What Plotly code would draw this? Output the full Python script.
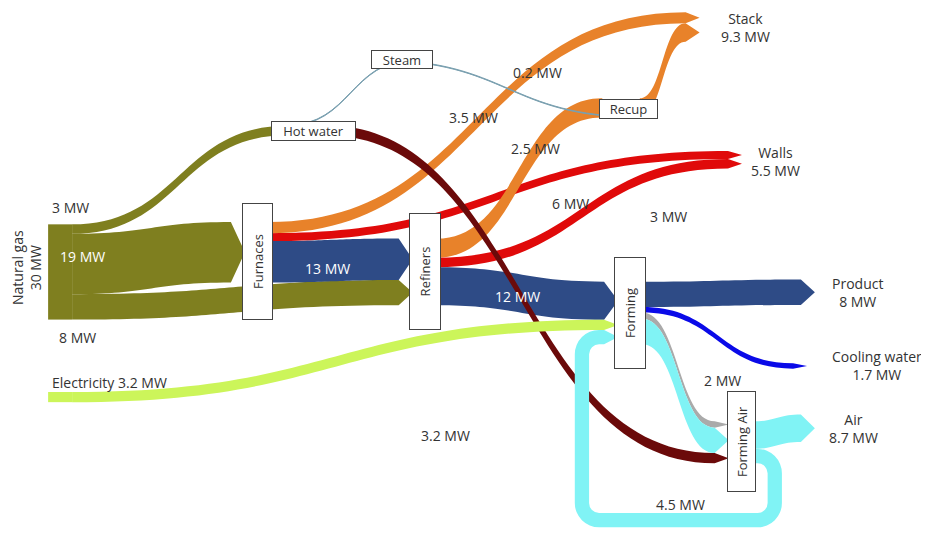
import plotly.graph_objects as go

# nodes
node_names = ["Natural gas", "Electricity", "Hot water", "Furnaces", "Refiners",
              "Recup", "Forming", "Forming Air", "Stack", "Walls",
              "Product", "Cooling water", "Air", "Steam"]

# flows (MW)
sources = [0, 0, 0, 3, 3, 3, 4, 4, 4, 5, 5, 13, 2, 1, 6, 6, 6, 6, 7, 7]
targets = [2, 3, 4, 4, 8, 9, 6, 5, 9, 8, 13, 2, 7, 6, 10, 11, 7, 7, 12, 6]
values = [3, 19, 8, 13, 3.5, 2.5, 12, 6, 3, 5.8, 0.2, 0.2, 3.2, 3.2, 8, 1.7, 2, 8, 8.7, 4.5]

OLIVE = "#7f7f1f"
BLUE = "#2e4b86"
ORANGE = "#e8822a"
RED = "#e00a0a"
CYAN = "#80f3f5"
STEAM = "#7aa0b0"
NONE = "rgba(0,0,0,0)"
link_colors = [OLIVE, OLIVE, OLIVE, BLUE, ORANGE, RED, BLUE, ORANGE, RED, ORANGE,
               STEAM, STEAM, "#6b0a0a", "#ccf55a", BLUE, "#0a0ae8", "#aaaaaa",
               CYAN, CYAN, CYAN]
node_colors = [OLIVE, "#ccf55a", "white", "white", "white", "white", "white", "white",
               NONE, NONE, NONE, NONE, NONE, "white"]

# node centres, as fractions of the sankey domain
node_x = [0.018, 0.018, 0.341, 0.269, 0.483, 0.742, 0.745, 0.886, 0.849, 0.903,
          0.996, 0.986, 0.996, 0.454]
node_y = [0.503, 0.744, 0.23, 0.465, 0.503, 0.187, 0.582, 0.831, 0.031, 0.287,
          0.542, 0.684, 0.804, 0.095]

# page body adds an 8px margin; positions below are given in window pixels
W, H, OFF = 921, 533, 8


def total_in(i):
    return sum(v for t, v in zip(targets, values) if t == i)


def total_out(i):
    return sum(v for s, v in zip(sources, values) if s == i)


def mw(v):
    return f"{round(v, 1):g} MW"


fig = go.Figure(go.Sankey(
    arrangement="fixed",
    domain=dict(x=[(46 - OFF) / W, (830 - OFF) / W],
                y=[1 - (530 - OFF) / H, 1 - (10.8 - OFF) / H]),
    node=dict(label=[""] * len(node_names), customdata=node_names,
              hovertemplate="%{customdata}<extra></extra>",
              x=node_x, y=node_y, pad=64, thickness=24,
              color=node_colors, line=dict(color=NONE, width=0)),
    link=dict(source=sources, target=targets, value=values, color=link_colors,
              arrowlen=14),
))

FONT = dict(family="Open Sans", size=14, color="#333333")


def label(text, px, py, **kw):
    d = dict(text=text, x=(px - OFF) / W, y=1 - (py - OFF) / H, xref="paper", yref="paper",
             xanchor="center", yanchor="middle", showarrow=False, font=FONT)
    d.update(kw)
    fig.add_annotation(**d)


def box(text, px, py, w, h, angle=0):
    label(text, px, py, textangle=angle, width=w, height=h, bgcolor="white",
          bordercolor="#444444", borderwidth=1, borderpad=0,
          font=dict(family="Open Sans", size=13, color="#333333"))


# end node labels
label(f"{node_names[0]}<br>{mw(total_out(0))}", 26, 268, textangle=-90)
label(f"{node_names[1]} {mw(total_out(1))}", 50, 382, xanchor="left")
for i, px, py in [(8, 745, 27), (9, 775, 162), (10, 857, 292),
                  (11, 877, 365), (12, 853, 428)]:
    label(f"{node_names[i]}<br>{mw(total_in(i))}", px, py)

# process boxes
box(node_names[3], 257, 262, 115, 29, -90)
box(node_names[4], 425, 272, 115, 30, -90)
box(node_names[6], 630, 313, 110, 30, -90)
box(node_names[7], 741, 442, 99, 27, -90)
box(node_names[2], 313, 131, 83, 18)
box(node_names[5], 628, 109, 57, 18)
box(node_names[13], 402, 60, 60, 17)

# link labels
for k, px, py, col in [(0, 70, 207, "#333333"), (1, 82, 256, "white"), (2, 77, 337, "#333333"),
                       (3, 327, 268, "white"), (6, 517, 296, "white"), (4, 473, 117, "#333333"),
                       (5, 535, 148, "#333333"), (7, 570, 203, "#333333"), (8, 668, 216, "#333333"),
                       (10, 537, 72, "#333333"), (16, 722, 380, "#333333"), (12, 445, 435, "#333333"),
                       (19, 680, 504, "#333333")]:
    label(mw(values[k]), px, py, font=dict(family="Open Sans", size=14, color=col))

fig.update_layout(margin=dict(l=0, r=0, t=0, b=0), width=W, height=H,
                  paper_bgcolor="white")
fig.write_html("out.html")
